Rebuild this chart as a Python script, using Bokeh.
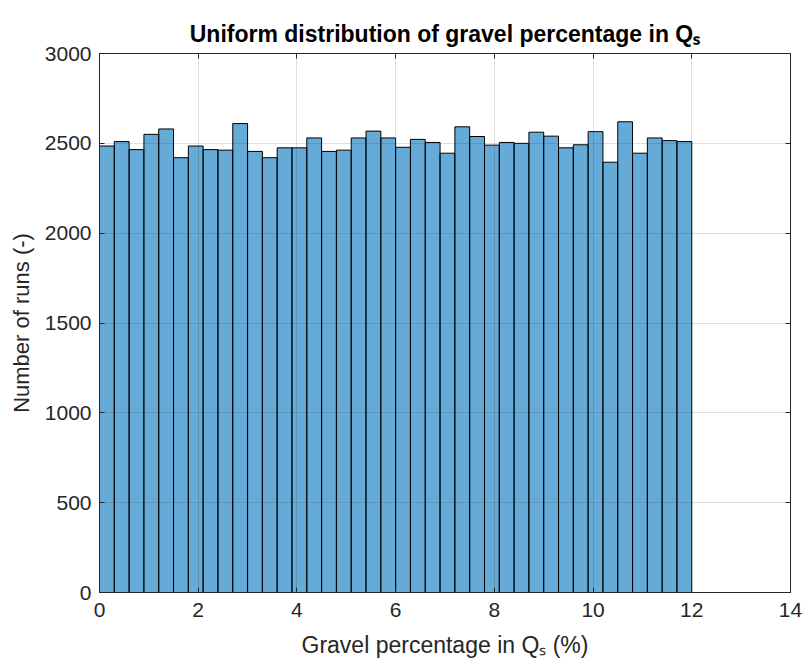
import numpy as np
from bokeh.plotting import figure
from bokeh.models import FixedTicker, LinearAxis, Range1d
from bokeh.embed import file_html
from bokeh.resources import INLINE

# Histogram of gravel percentage: 40 bins of width 0.3 between 0 and 12 %
bin_start = 0.0
bin_stop = 12.0
n_bins = 40
counts = [2485, 2510, 2465, 2550, 2580, 2420, 2485, 2465, 2462, 2610,
          2455, 2420, 2475, 2475, 2530, 2455, 2462, 2530, 2568, 2530,
          2478, 2522, 2505, 2445, 2592, 2538, 2490, 2505, 2500, 2562,
          2540, 2475, 2492, 2565, 2395, 2620, 2445, 2530, 2515, 2510]
x_ticks = [0, 2, 4, 6, 8, 10, 12, 14]
y_ticks = [0, 500, 1000, 1500, 2000, 2500, 3000]

title_text = "Uniform distribution of gravel percentage in Q\u209B"
x_label = "Gravel percentage in Q\u209B (%)"
y_label = "Number of runs (-)"

edges = np.linspace(bin_start, bin_stop, n_bins + 1)

TEXT = "#262626"
FONT = "Liberation Sans"

p = figure(width=807, height=669, output_backend="svg", toolbar_location=None,
           x_range=Range1d(0, 14), y_range=Range1d(0, 3000),
           min_border_left=99, min_border_right=17,
           min_border_top=53, min_border_bottom=77)
p.background_fill_color = "white"
p.border_fill_color = "white"
p.outline_line_color = TEXT
p.outline_line_width = 1

p.title.text = title_text
p.title.align = "center"
p.title.text_font = FONT
p.title.text_font_size = "23px"
p.title.text_font_style = "bold"
p.title.text_color = "black"
p.title.standoff = 14

p.quad(left=edges[:-1], right=edges[1:], bottom=0, top=counts,
       fill_color="#0072BD", fill_alpha=0.6,
       line_color="black", line_width=1)

# grid drawn over the bars, faint
for g in (p.xgrid, p.ygrid):
    g.level = "annotation"
    g.grid_line_color = TEXT
    g.grid_line_alpha = 0.15
    g.grid_line_width = 1
p.xgrid.ticker = FixedTicker(ticks=x_ticks)
p.ygrid.ticker = FixedTicker(ticks=y_ticks)


def style_axis(ax, ticks, show_labels=True):
    ax.ticker = FixedTicker(ticks=ticks)
    ax.axis_line_color = TEXT
    ax.major_tick_line_color = TEXT
    ax.major_tick_in = 5
    ax.major_tick_out = 0
    ax.minor_tick_line_color = None
    ax.major_label_text_font = FONT
    ax.major_label_text_color = TEXT
    ax.major_label_text_font_size = "21px"
    ax.axis_label_text_font = FONT
    ax.axis_label_text_font_size = "22px"
    ax.axis_label_text_font_style = "normal"
    ax.axis_label_text_color = TEXT
    if not show_labels:
        ax.major_label_overrides = {t: "" for t in ticks}
        ax.major_label_standoff = 0
        ax.axis_line_color = None


style_axis(p.xaxis[0], x_ticks)
style_axis(p.yaxis[0], y_ticks)
p.xaxis[0].major_label_standoff = 10
p.yaxis[0].major_label_standoff = 8

p.xaxis[0].axis_label = x_label
p.xaxis[0].axis_label_text_font_size = "23px"
p.xaxis[0].axis_label_standoff = 12
p.yaxis[0].axis_label = y_label
p.yaxis[0].axis_label_standoff = 8

top_axis = LinearAxis()
style_axis(top_axis, x_ticks, show_labels=False)
p.add_layout(top_axis, "above")
right_axis = LinearAxis()
style_axis(right_axis, y_ticks, show_labels=False)
p.add_layout(right_axis, "right")

open("out.html", "w").write(file_html(p, INLINE))
